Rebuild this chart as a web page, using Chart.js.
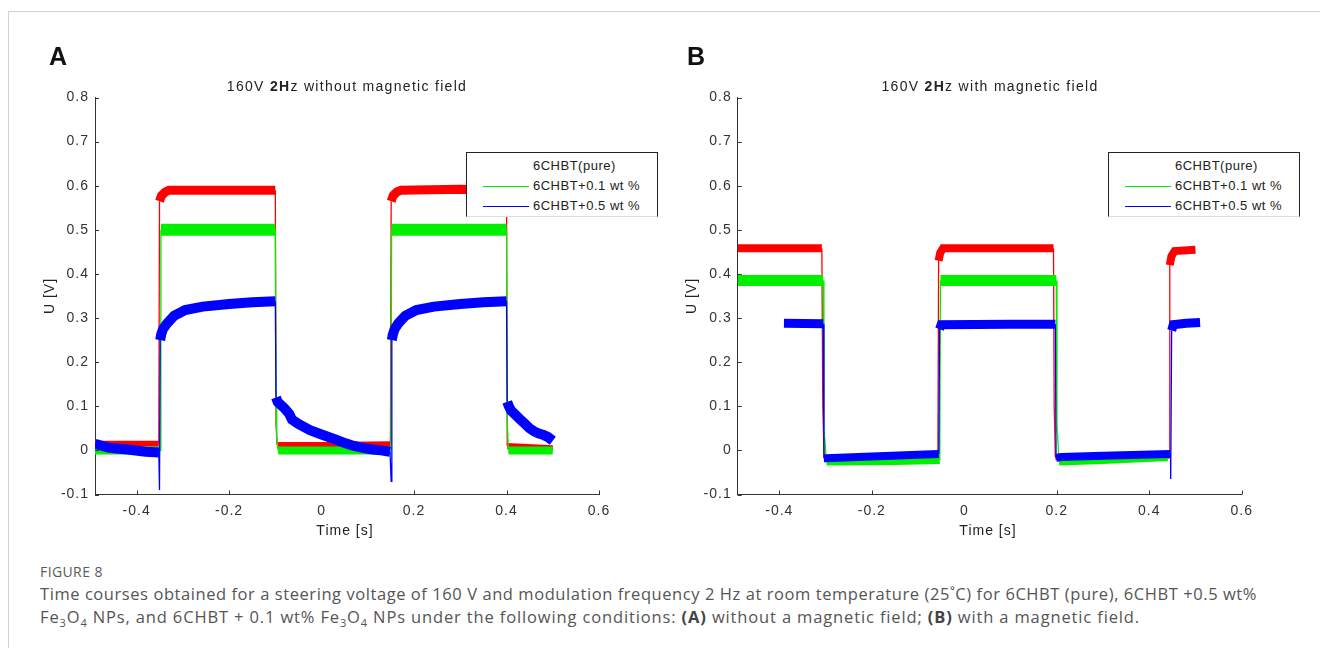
<!DOCTYPE html>
<html>
<head>
<meta charset="utf-8">
<script src="https://cdn.jsdelivr.net/npm/chart.js@4.4.1/dist/chart.umd.min.js"></script>
<style>
  html, body { margin:0; padding:0; background:#fff; width:1320px; height:648px; overflow:hidden; }
  body { position:relative; font-family:"Liberation Sans", Arial, sans-serif; }
  .frame { position:absolute; left:8px; top:11px; width:1400px; height:700px; border:1.5px solid #d4d4d4; box-sizing:border-box; }
  canvas { position:absolute; top:0; }
  .txt { position:absolute; white-space:nowrap; color:#222; letter-spacing:1px; font-size:14px; line-height:1; }
  .ttl { letter-spacing:1.3px; }
  .c { transform:translate(-50%,-50%); }
  .rot { transform:translate(-50%,-50%) rotate(-90deg); }
  .letter { position:absolute; font-weight:bold; font-size:25px; color:#111; line-height:1; font-family:"Liberation Sans", Arial, sans-serif; }
  .legend { position:absolute; width:192px; height:65px; background:#fff; border:1px solid #222; border-bottom-color:#ddd; box-sizing:border-box; }
  .legend .row { position:absolute; left:0; width:100%; height:20px; }
  .legend .sw { position:absolute; left:16px; top:9.5px; width:46px; height:1.3px; }
  .legend .lt { position:absolute; left:66px; top:3px; font-size:13px; letter-spacing:0.5px; color:#222; white-space:nowrap; line-height:1; }
  .cap { position:absolute; left:40px; white-space:nowrap; font-family:"Open Sans", Lato, sans-serif; color:#555; }
  .cap b { color:#444; font-weight:700; }
  .fig { font-size:14px; color:#5a5a5a; letter-spacing:0.4px; }
</style>
</head>
<body>
<div class="frame"></div>
<canvas id="cA" width="660" height="560" style="left:0px;width:660px;height:560px"></canvas>
<canvas id="cB" width="660" height="560" style="left:660px;width:660px;height:560px"></canvas>

<div class="letter" style="left:49px;top:44px">A</div>
<div class="letter" style="left:687px;top:44px">B</div>

<div class="txt ttl c" style="left:347px;top:86px">160V <b style="font-weight:600">2H</b>z without magnetic field</div>
<div class="txt ttl c" style="left:990px;top:86px">160V <b style="font-weight:600">2H</b>z with magnetic field</div>

<div class="txt rot" style="left:48.5px;top:296px">U [V]</div>
<div class="txt rot" style="left:691px;top:296px">U [V]</div>
<div class="txt c" style="left:345px;top:530px">Time [s]</div>
<div class="txt c" style="left:988px;top:530px">Time [s]</div>

<div id="legA" class="legend" style="left:466px;top:152px"></div>
<div id="legB" class="legend" style="left:1108px;top:152px"></div>

<div class="cap fig" style="top:562px">FIGURE 8</div>
<div class="cap" id="cap1" style="top:582px;font-size:16.5px">Time courses obtained for a steering voltage of 160 V and modulation frequency 2 Hz at room temperature (25˚C) for 6CHBT (pure), 6CHBT +0.5 wt%</div>
<div class="cap" id="cap2" style="top:605px;font-size:16.5px">Fe<sub style="font-size:11px">3</sub>O<sub style="font-size:11px">4</sub> NPs, and 6CHBT + 0.1 wt% Fe<sub style="font-size:11px">3</sub>O<sub style="font-size:11px">4</sub> NPs under the following conditions: <b>(A)</b> without a magnetic field; <b>(B)</b> with a magnetic field.</div>

<script>
// ---------- data ----------
const seriesLabels = ["6CHBT(pure)", "6CHBT+0.1 wt %", "6CHBT+0.5 wt %"];
const seriesColors = ["#ff0000", "#00f000", "#0000ff"];
const legendSwatch = [null, "#00f000", "#0000ff"];

const xTicks = [-0.4, -0.2, 0, 0.2, 0.4, 0.6];
const xTickMarks = [-0.4, -0.2, 0.2, 0.4, 0.6];
const yTicks = [-0.1, 0, 0.1, 0.2, 0.3, 0.4, 0.5, 0.6, 0.7, 0.8];

// Panel A: without magnetic field
const tA_red = [-0.49, -0.352, -0.3505, -0.346, -0.338, -0.33, -0.2, -0.1, -0.0985, -0.096, 0.0, 0.149, 0.1505, 0.155, 0.163, 0.172, 0.3, 0.4, 0.4015, 0.5];
const uA_red = [0.015, 0.015, 0.565, 0.578, 0.586, 0.59, 0.59, 0.59, 0.06, 0.012, 0.012, 0.014, 0.565, 0.578, 0.586, 0.59, 0.592, 0.59, 0.01, 0.005];

const tA_green = [-0.49, -0.349, -0.3475, -0.1, -0.0985, -0.097, -0.094, 0.15, 0.1515, 0.4, 0.4015, 0.404, 0.5];
const uA_green = [0.0, 0.0, 0.5, 0.5, 0.12, 0.03, 0.0, 0.0, 0.5, 0.5, 0.07, 0.0, 0.0];

const tA_blue = [-0.49, -0.46, -0.42, -0.38, -0.352, -0.3505, -0.349, -0.347, -0.343, -0.334, -0.319, -0.295, -0.257, -0.2, -0.15, -0.1,
                 -0.0985, -0.095, -0.08, -0.07, -0.064, -0.05, -0.025, 0.0, 0.0135, 0.03, 0.052, 0.07, 0.091, 0.11, 0.129, 0.148,
                 0.1505, 0.152, 0.154, 0.158, 0.166, 0.181, 0.205, 0.243, 0.3, 0.35, 0.4,
                 0.4015, 0.405, 0.41, 0.42, 0.43, 0.44, 0.45, 0.46, 0.47, 0.48, 0.49, 0.5];
const uA_blue = [0.015, 0.006, 0.002, -0.003, -0.005, -0.09, 0.25, 0.262, 0.275, 0.288, 0.305, 0.318, 0.326, 0.332, 0.336, 0.338,
                 0.12, 0.11, 0.095, 0.083, 0.07, 0.06, 0.046, 0.036, 0.031, 0.025, 0.016, 0.01, 0.005, 0.002, 0.0, -0.003,
                 -0.07, 0.25, 0.262, 0.275, 0.288, 0.305, 0.318, 0.326, 0.332, 0.336, 0.338,
                 0.11, 0.1, 0.09, 0.08, 0.07, 0.06, 0.05, 0.043, 0.038, 0.035, 0.03, 0.022];

// Panel B: with magnetic field
const tB_red = [-0.49, -0.308, -0.306, -0.303, -0.2, -0.057, -0.0555, -0.052, -0.046, 0.1, 0.193, 0.1945, 0.197, 0.3, 0.443, 0.4445, 0.448, 0.455, 0.5];
const uB_red = [0.458, 0.458, 0.1, -0.018, -0.016, -0.014, 0.43, 0.448, 0.458, 0.458, 0.458, 0.1, -0.015, -0.013, -0.012, 0.42, 0.44, 0.452, 0.455];

const tB_green = [-0.49, -0.305, -0.3035, -0.302, -0.298, -0.15, -0.053, -0.0515, 0.1, 0.199, 0.2005, 0.2015, 0.205, 0.3, 0.44];
const uB_green = [0.385, 0.385, 0.03, 0.03, -0.025, -0.024, -0.022, 0.385, 0.385, 0.385, 0.04, 0.04, -0.025, -0.022, -0.015];

const tB_blue = [-0.39, -0.305, -0.3035, -0.3, -0.2, -0.1, -0.055, -0.0535, -0.05, 0.1, 0.197, 0.1985, 0.21, 0.3, 0.446, 0.4465, 0.4485, 0.452, 0.48, 0.51];
const uB_blue = [0.288, 0.287, -0.018, -0.018, -0.014, -0.01, -0.008, 0.275, 0.285, 0.286, 0.286, -0.017, -0.015, -0.012, -0.008, -0.065, 0.272, 0.285, 0.288, 0.29];

// ---------- helpers ----------
function pts(t, u) { return t.map((x, i) => ({ x: x, y: u[i] })); }
function seg(u, width, lowWidth) {
  return {
    borderWidth: c => {
      const dx = Math.abs(c.p1.x - c.p0.x), dy = Math.abs(c.p1.y - c.p0.y);
      if (dy > 10 && dy > 3 * dx) return 1.3;
      const lo = Math.max(u[c.p0DataIndex], u[c.p1DataIndex]) < 0.03;
      return lo ? lowWidth : width;
    }
  };
}
const FONT = '"Liberation Sans", Arial, sans-serif';

const spacingPlugin = {
  id: 'spacing',
  beforeLayout(chart) { chart.ctx.letterSpacing = '1px'; },
  beforeDraw(chart) { chart.ctx.letterSpacing = '1px'; }
};
const innerTicks = {
  id: 'innerTicks',
  afterDraw(chart) {
    const ctx = chart.ctx, x = chart.scales.x, y = chart.scales.y, a = chart.chartArea;
    ctx.save();
    ctx.strokeStyle = '#333'; ctx.lineWidth = 1;
    ctx.beginPath();
    yTicks.forEach(v => { const py = Math.round(y.getPixelForValue(v)) + 0.5; ctx.moveTo(a.left, py); ctx.lineTo(a.left + 4, py); });
    xTickMarks.forEach(v => { const px = Math.round(x.getPixelForValue(v)) + 0.5; ctx.moveTo(px, a.bottom); ctx.lineTo(px, a.bottom - 4); });
    ctx.stroke();
    ctx.restore();
  }
};

function makeChart(id, series, yWidth, padRight) {
  new Chart(document.getElementById(id), {
    type: 'line',
    data: {
      datasets: series.map((s, i) => ({
        label: seriesLabels[i],
        data: pts(s.t, s.u),
        borderColor: seriesColors[i],
        borderWidth: s.w,
        borderCapStyle: 'butt',
        borderJoinStyle: 'miter',
        pointRadius: 0,
        tension: 0,
        fill: false,
        order: 3 - i,
        segment: seg(s.u, s.w, s.lw)
      }))
    },
    options: {
      responsive: false,
      animation: false,
      events: [],
      layout: { padding: { left: 0, right: padRight, top: 97.5, bottom: 0 } },
      plugins: { legend: { display: false }, title: { display: false }, tooltip: { enabled: false } },
      scales: {
        x: {
          type: 'linear', min: -0.49, max: 0.6,
          afterBuildTicks: sc => { sc.ticks = xTicks.map(v => ({ value: v })); },
          afterFit: sc => { sc.height = 65.5; },
          grid: { drawOnChartArea: false, drawTicks: false },
          border: { display: true, color: '#333', width: 1 },
          ticks: { autoSkip: false, maxRotation: 0, padding: 8, color: '#333', font: { family: FONT, size: 14 },
                   callback: v => String(v) }
        },
        y: {
          type: 'linear', min: -0.1, max: 0.8,
          afterBuildTicks: sc => { sc.ticks = yTicks.map(v => ({ value: v })); },
          afterFit: sc => { sc.width = yWidth; },
          grid: { drawOnChartArea: false, drawTicks: false },
          border: { display: true, color: '#333', width: 1 },
          ticks: { autoSkip: false, padding: 6, color: '#333', font: { family: FONT, size: 14 },
                   callback: v => String(v) }
        }
      }
    },
    plugins: [spacingPlugin, innerTicks]
  });
}

makeChart('cA', [
  { t: tA_red, u: uA_red, w: 9, lw: 6 },
  { t: tA_green, u: uA_green, w: 12, lw: 8 },
  { t: tA_blue, u: uA_blue, w: 10, lw: 10 }
], 95, 61);

makeChart('cB', [
  { t: tB_red, u: uB_red, w: 8, lw: 6 },
  { t: tB_green, u: uB_green, w: 11, lw: 8 },
  { t: tB_blue, u: uB_blue, w: 9, lw: 8 }
], 77.7, 78.3);

// legends
function buildLegend(id) {
  const box = document.getElementById(id);
  seriesLabels.forEach((lab, i) => {
    const row = document.createElement('div');
    row.className = 'row';
    row.style.top = (3 + i * 20) + 'px';
    if (legendSwatch[i]) {
      const sw = document.createElement('div');
      sw.className = 'sw'; sw.style.background = legendSwatch[i];
      row.appendChild(sw);
    }
    const lt = document.createElement('div');
    lt.className = 'lt'; lt.textContent = lab;
    row.appendChild(lt);
    box.appendChild(row);
  });
}
buildLegend('legA');
buildLegend('legB');

// fit caption line widths to the reference
function fitWidth(id, target) {
  const el = document.getElementById(id);
  const n = el.textContent.length;
  const w = el.getBoundingClientRect().width;
  el.style.letterSpacing = ((target - w) / n) + 'px';
}
fitWidth('cap1', 1217);
fitWidth('cap2', 1100);
</script>
</body>
</html>
